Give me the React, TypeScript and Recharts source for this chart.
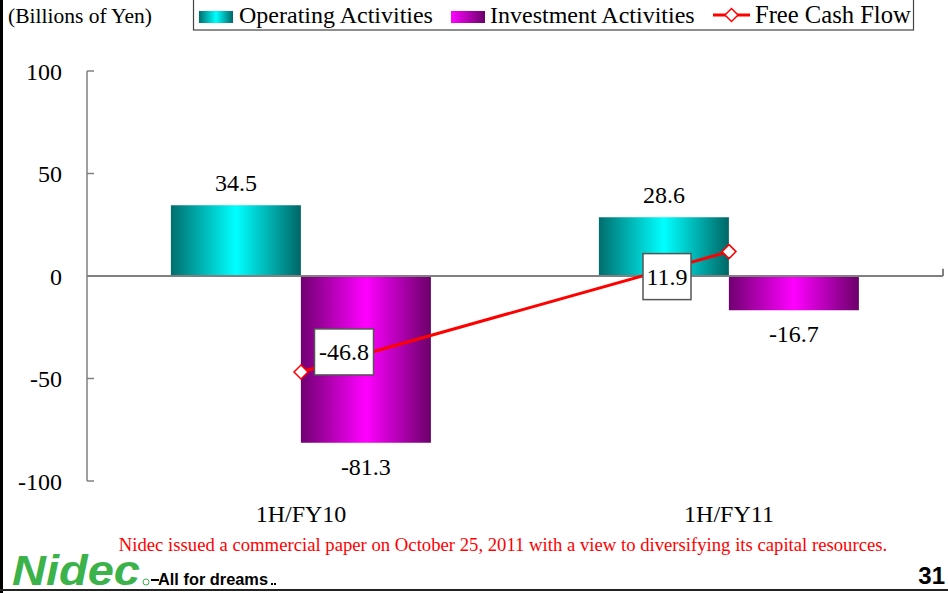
import React from 'react';
import { ComposedChart, Bar, Line, XAxis, YAxis, ReferenceLine, LabelList } from 'recharts';

const categories = ['1H/FY10', '1H/FY11'];
const operatingActivities = [34.5, 28.6];
const investmentActivities = [-81.3, -16.7];
const freeCashFlow = [-46.8, 11.9];
const yTicks = [-100, -50, 0, 50, 100];

const data = categories.map((name, i) => ({
  name,
  operating: operatingActivities[i],
  investment: investmentActivities[i],
  fcf: freeCashFlow[i],
}));

const SERIF = '"Liberation Serif", "Times New Roman", serif';
const SANS = '"Liberation Sans", Arial, sans-serif';

// offsets of the boxed free-cash-flow labels relative to their points
const fcfLabelOffsets = [
  { dx: 43, dy: -20 },
  { dx: -62, dy: 25 },
];

const BarValueLabel = (props: any) => {
  const { x, y, width, height, value } = props;
  const top = Math.min(y, y + height);
  const bottom = Math.max(y, y + height);
  const cx = x + width / 2;
  const ty = value >= 0 ? top - 14 : bottom + 32;
  return (
    <text x={cx} y={ty} textAnchor="middle" fontSize={24} fontFamily={SERIF} fill="#000">
      {String(value)}
    </text>
  );
};

const FcfLabel = (props: any) => {
  const { x, y, value, index } = props;
  const off = fcfLabelOffsets[index] || { dx: 0, dy: 0 };
  const cx = x + off.dx;
  const cy = y + off.dy;
  const txt = String(value);
  const w = txt.length * 11 + 4;
  const h = 46;
  return (
    <g>
      <rect x={cx - w / 2} y={cy - h / 2} width={w} height={h} fill="#fff" stroke="#555" strokeWidth={1.5} />
      <text x={cx} y={cy + 8} textAnchor="middle" fontSize={24} fontFamily={SERIF} fill="#000">
        {txt}
      </text>
    </g>
  );
};

const Diamond = (props: any) => {
  const { cx, cy } = props;
  if (cx == null || cy == null) return null;
  const s = 7;
  return (
    <polygon
      points={`${cx},${cy - s} ${cx + s},${cy} ${cx},${cy + s} ${cx - s},${cy}`}
      fill="#fff"
      stroke="#ff0000"
      strokeWidth={1.5}
    />
  );
};

const Overlay = () => (
  <svg width={948} height={593} style={{ position: 'absolute', left: 0, top: 0, pointerEvents: 'none' }}>
    <defs>
      <linearGradient id="lgTeal" x1="0" y1="0" x2="1" y2="0">
        <stop offset="0" stopColor="#006e6e" />
        <stop offset="0.5" stopColor="#00ffff" />
        <stop offset="1" stopColor="#006666" />
      </linearGradient>
      <linearGradient id="lgPurple" x1="0" y1="0" x2="1" y2="0">
        <stop offset="0" stopColor="#ff00ff" />
        <stop offset="1" stopColor="#6a006a" />
      </linearGradient>
    </defs>
    {/* frame */}
    <rect x={0} y={0} width={3} height={593} fill="#000" />
    <rect x={0} y={589} width={948} height={2} fill="#222" />
    {/* unit title */}
    <text x={8} y={23} fontSize={21.5} fontFamily={SERIF} fill="#000">(Billions of Yen)</text>
    {/* legend */}
    <rect x={193.5} y={-2} width={720} height={32} fill="none" stroke="#444" strokeWidth={1.2} />
    <rect x={199} y={11} width={34} height={12} fill="url(#lgTeal)" />
    <text x={239} y={23} fontSize={24} fontFamily={SERIF} fill="#000">Operating Activities</text>
    <rect x={451} y={11} width={34} height={12} fill="url(#lgPurple)" />
    <text x={490} y={23} fontSize={24} fontFamily={SERIF} fill="#000">Investment Activities</text>
    <line x1={713} y1={15} x2={750} y2={15} stroke="#ff0000" strokeWidth={3} />
    <polygon points="731.5,8.5 738,15 731.5,21.5 725,15" fill="#fff" stroke="#ff0000" strokeWidth={1.5} />
    <text x={755} y={23} fontSize={24.6} fontFamily={SERIF} fill="#000">Free Cash Flow</text>
    {/* footnote */}
    <text x={503} y={551} textAnchor="middle" fontSize={18.7} fontFamily={SERIF} fill="#ff0000">
      Nidec issued a commercial paper on October 25, 2011 with a view to diversifying its capital resources.
    </text>
    {/* logo */}
    <text x={12} y={585} fontSize={42} fontWeight={900} fontStyle="italic" fontFamily={SANS} fill="#3cb34a"
      textLength={128} lengthAdjust="spacingAndGlyphs">Nidec</text>
    <circle cx={146} cy={582} r={3} fill="none" stroke="#3cb34a" strokeWidth={1} />
    <line x1={151} y1={580} x2={159} y2={580} stroke="#000" strokeWidth={2} />
    <text x={158} y={585} fontSize={17} fontWeight={900} fontFamily={SANS} fill="#000"
      textLength={110} lengthAdjust="spacingAndGlyphs">All for dreams</text>
    <rect x={271} y={583} width={2} height={2} fill="#000" />
    <rect x={274} y={583} width={2} height={2} fill="#000" />
    {/* page number */}
    <text x={945} y={584} textAnchor="end" fontSize={24} fontWeight={700} fontFamily={SANS} fill="#000">31</text>
  </svg>
);

export default function App() {
  return (
    <div style={{ position: 'absolute', left: 0, top: 0, width: 948, height: 593, background: '#fff' }}>
      <ComposedChart
        width={948}
        height={593}
        data={data}
        margin={{ top: 71, right: 5, bottom: 72, left: 0 }}
        barCategoryGap="19.6%"
        barGap={0}
      >
        <defs>
          <linearGradient id="gTeal" x1="0" y1="0" x2="1" y2="0">
            <stop offset="0" stopColor="#006e6e" />
            <stop offset="0.5" stopColor="#00ffff" />
            <stop offset="1" stopColor="#006666" />
          </linearGradient>
          <linearGradient id="gPurple" x1="0" y1="0" x2="1" y2="0">
            <stop offset="0" stopColor="#700070" />
            <stop offset="0.5" stopColor="#ff00ff" />
            <stop offset="1" stopColor="#6a006a" />
          </linearGradient>
        </defs>
        <XAxis
          dataKey="name"
          axisLine={false}
          tickLine={false}
          tick={{ fontSize: 24, fill: '#000', fontFamily: SERIF }}
          tickMargin={18}
          height={40}
        />
        <XAxis xAxisId="num" type="number" domain={[0, 2]} hide />
        <YAxis
          domain={[-100, 100]}
          ticks={yTicks}
          interval={0}
          width={87}
          axisLine={{ stroke: '#808080', strokeWidth: 1.5 }}
          tickLine={{ stroke: '#808080', strokeWidth: 1.5 }}
          tickSize={-7}
          tickMargin={32}
          tick={{ fontSize: 24, fill: '#000', fontFamily: SERIF }}
        />
        <Bar dataKey="operating" fill="url(#gTeal)" isAnimationActive={false}>
          <LabelList dataKey="operating" content={BarValueLabel} />
        </Bar>
        <Bar dataKey="investment" fill="url(#gPurple)" isAnimationActive={false}>
          <LabelList dataKey="investment" content={BarValueLabel} />
        </Bar>
        <ReferenceLine y={0} stroke="#808080" strokeWidth={2} />
        <ReferenceLine xAxisId="num" segment={[{ x: 1, y: 0 }, { x: 1, y: 3.5 }]} stroke="#808080" strokeWidth={2} />
        <ReferenceLine xAxisId="num" segment={[{ x: 2, y: 0 }, { x: 2, y: 3.5 }]} stroke="#808080" strokeWidth={2} />
        <Line
          dataKey="fcf"
          stroke="#ff0000"
          strokeWidth={3}
          dot={<Diamond />}
          activeDot={false}
          isAnimationActive={false}
        >
          <LabelList dataKey="fcf" content={FcfLabel} />
        </Line>
      </ComposedChart>
      <Overlay />
    </div>
  );
}
